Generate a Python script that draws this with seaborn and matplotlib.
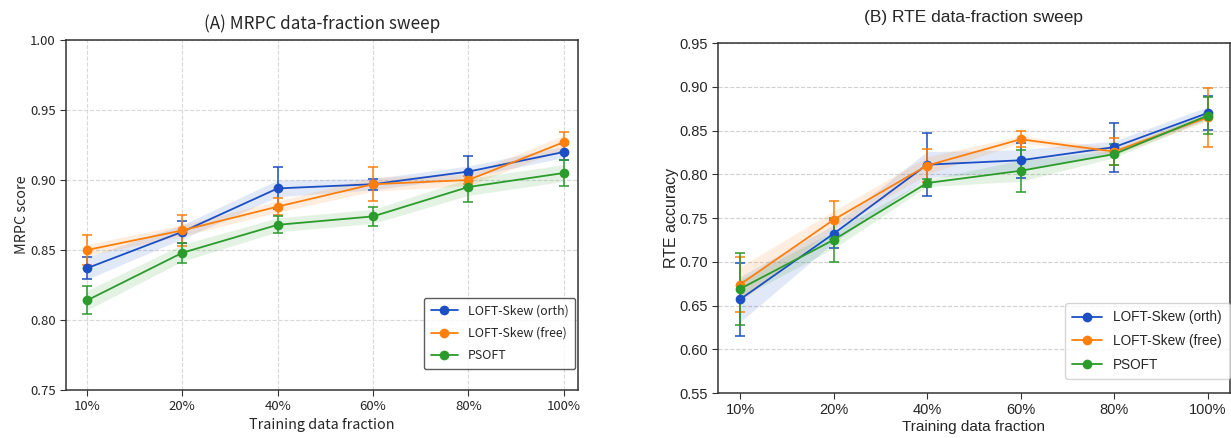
import matplotlib

matplotlib.use("agg")
import numpy as np
import pandas as pd
import matplotlib.pyplot as plt
import seaborn as sns

# data
fractions = ["10%", "20%", "40%", "60%", "80%", "100%"]
methods = ["LOFT-Skew (orth)", "LOFT-Skew (free)", "PSOFT"]
colors = ["#1c4fc4", "#ff7f0e", "#2b9b2b"]

mrpc_orth = [0.837, 0.863, 0.894, 0.897, 0.906, 0.920]
mrpc_free = [0.850, 0.864, 0.881, 0.897, 0.900, 0.927]
mrpc_psoft = [0.814, 0.848, 0.868, 0.874, 0.895, 0.905]
mrpc_orth_err = [0.008, 0.008, 0.015, 0.004, 0.011, 0.006]
mrpc_free_err = [0.011, 0.011, 0.006, 0.012, 0.003, 0.007]
mrpc_psoft_err = [0.010, 0.007, 0.006, 0.007, 0.011, 0.009]
mrpc_orth_band = [0.008, 0.005, 0.006, 0.004, 0.004, 0.004]
mrpc_free_band = [0.004, 0.004, 0.004, 0.005, 0.004, 0.005]
mrpc_psoft_band = [0.007, 0.006, 0.005, 0.005, 0.006, 0.006]

rte_orth = [0.657, 0.732, 0.811, 0.816, 0.831, 0.870]
rte_free = [0.674, 0.748, 0.810, 0.840, 0.826, 0.865]
rte_psoft = [0.669, 0.725, 0.790, 0.804, 0.823, 0.867]
rte_orth_err = [0.042, 0.016, 0.036, 0.020, 0.028, 0.019]
rte_free_err = [0.031, 0.022, 0.019, 0.009, 0.015, 0.034]
rte_psoft_err = [0.041, 0.025, 0.005, 0.024, 0.012, 0.021]
rte_orth_band = [0.026, 0.010, 0.015, 0.012, 0.007, 0.007]
rte_free_band = [0.020, 0.010, 0.010, 0.004, 0.004, 0.004]
rte_psoft_band = [0.010, 0.010, 0.004, 0.012, 0.004, 0.004]


def draw_panel(ax, means, errs, bands, font, tick_size):
    pos = np.arange(len(fractions))
    frames = []
    for name, m in zip(methods, means):
        frames.append(pd.DataFrame({"pos": pos, "score": m, "method": name}))
    df = pd.concat(frames)

    # shaded band + error bars behind the seaborn lines
    for m, e, b, c in zip(means, errs, bands, colors):
        m = np.array(m)
        b = np.array(b)
        ax.fill_between(pos, m - b, m + b, color=c, alpha=0.13, lw=0, zorder=1)
        ax.errorbar(pos, m, yerr=e, fmt="none", ecolor=c, elinewidth=1.1,
                    capsize=3.5, capthick=1.1, zorder=2)

    sns.lineplot(data=df, x="pos", y="score", hue="method", palette=colors,
                 marker="o", markersize=7, markeredgewidth=0, linewidth=1.3,
                 ax=ax, zorder=3)
    ax.set_xticks(pos)
    ax.set_xticklabels(fractions, fontfamily=font)
    ax.tick_params(axis="both", labelsize=tick_size, length=4, color="#333333",
                   bottom=True, left=True)
    for s in ax.spines.values():
        s.set_color("#333333")
        s.set_linewidth(1.1)


sns.set_style("white")
fig = plt.figure(figsize=(12.31, 4.38), dpi=100)
ax1 = fig.add_axes([0.0536, 0.1096, 0.4159, 0.799])
ax2 = fig.add_axes([0.5833, 0.1027, 0.4155, 0.799])

# (A) MRPC
font_a = ["Noto Sans CJK SC", "DejaVu Sans"]
draw_panel(ax1, [mrpc_orth, mrpc_free, mrpc_psoft],
           [mrpc_orth_err, mrpc_free_err, mrpc_psoft_err],
           [mrpc_orth_band, mrpc_free_band, mrpc_psoft_band], font_a, 9.5)
yt1 = np.arange(0.75, 1.001, 0.05)
ax1.set_ylim(0.75, 1.00)
ax1.set_yticks(yt1)
ax1.set_yticklabels([f"{v:.2f}" for v in yt1], fontfamily=font_a)
ax1.set_xlim(-0.22, 5.15)
ax1.grid(True, linestyle="--", color="#d8d8d8", linewidth=0.8)
ax1.set_title("(A) MRPC data-fraction sweep", fontsize=12.3, fontfamily=font_a, pad=8)
ax1.set_xlabel("Training data fraction", fontsize=10.3, fontfamily=font_a, labelpad=3)
ax1.set_ylabel("MRPC score", fontsize=10.3, fontfamily=font_a, labelpad=1)
leg = ax1.legend(loc="lower right", bbox_to_anchor=(0.995, 0.06),
                 prop={"family": font_a, "size": 8.9}, frameon=True, fancybox=True,
                 borderaxespad=0.0, handlelength=2.2, labelspacing=0.75, borderpad=0.55)
leg.get_frame().set_edgecolor("#333333")
leg.get_frame().set_linewidth(1.0)

# (B) RTE
font_b = ["Liberation Sans", "DejaVu Sans"]
draw_panel(ax2, [rte_orth, rte_free, rte_psoft],
           [rte_orth_err, rte_free_err, rte_psoft_err],
           [rte_orth_band, rte_free_band, rte_psoft_band], font_b, 10.5)
yt2 = np.arange(0.55, 0.951, 0.05)
ax2.set_ylim(0.55, 0.95)
ax2.set_yticks(yt2)
ax2.set_yticklabels([f"{v:.2f}" for v in yt2], fontfamily=font_b)
ax2.set_xlim(-0.235, 5.235)
ax2.grid(True, axis="y", linestyle="--", color="#d0d0d0", linewidth=0.8)
ax2.set_title("(B) RTE data-fraction sweep", fontsize=12.5, fontfamily=font_b, pad=15)
ax2.set_xlabel("Training data fraction", fontsize=11, fontfamily=font_b, labelpad=2)
ax2.set_ylabel("RTE accuracy", fontsize=11.5, fontfamily=font_b, labelpad=0)
leg2 = ax2.legend(loc="lower right", bbox_to_anchor=(1.0, 0.04),
                  prop={"family": font_b, "size": 9.8}, frameon=True, fancybox=True,
                  borderaxespad=0.0, handlelength=2.2, labelspacing=0.7, borderpad=0.55)
leg2.get_frame().set_edgecolor("#cccccc")

fig.savefig("out.png", dpi=100)
